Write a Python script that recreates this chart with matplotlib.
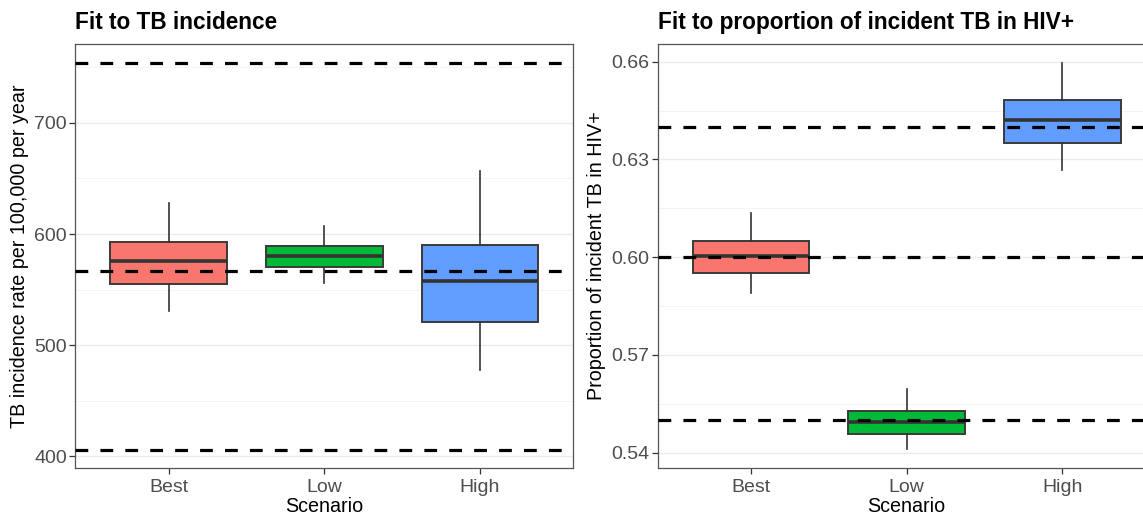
import matplotlib
matplotlib.use("Agg")
import matplotlib.pyplot as plt
from matplotlib.ticker import FixedLocator

plt.rcParams['font.family'] = ['Liberation Sans', 'DejaVu Sans']

# data
scenarios = ["Best", "Low", "High"]
fills = ["#F8766D", "#00BA38", "#619CFF"]

# left panel: TB incidence rate per 100,000 per year
inc_whislo = [531, 556, 478]
inc_q1 = [555, 570, 521]
inc_med = [575.5, 580, 558]
inc_q3 = [592.5, 589, 590]
inc_whishi = [627.5, 607, 657]
inc_targets = [406, 567, 754]

# right panel: proportion of incident TB in HIV+
hiv_whislo = [0.5889, 0.5411, 0.6269]
hiv_q1 = [0.5952, 0.5458, 0.6351]
hiv_med = [0.6004, 0.5495, 0.6422]
hiv_q3 = [0.6050, 0.5529, 0.6483]
hiv_whishi = [0.6136, 0.5594, 0.6596]
hiv_targets = [0.55, 0.60, 0.64]


def make_stats(lo, q1, med, q3, hi):
    return [dict(whislo=a, q1=b, med=c, q3=d, whishi=e, label=s)
            for a, b, c, d, e, s in zip(lo, q1, med, q3, hi, scenarios)]


def draw_panel(ax, stats, targets, title, ylabel, major, ylim, fmt):
    bp = ax.bxp(stats, positions=[1, 2, 3], widths=0.75, patch_artist=True,
                showfliers=False, showcaps=False,
                boxprops=dict(edgecolor="#3a3a3a", linewidth=1.4),
                medianprops=dict(color="#333333", linewidth=2.6, solid_capstyle="butt"),
                whiskerprops=dict(color="#333333", linewidth=1.2),
                zorder=2)
    for patch, c in zip(bp["boxes"], fills):
        patch.set_facecolor(c)

    # target lines
    for t in targets:
        ax.axhline(t, color="black", linewidth=2.3, linestyle=(0, (4, 3.8)),
                   dash_capstyle="butt", zorder=3)

    ax.set_xlim(0.4, 3.6)
    ax.set_ylim(*ylim)
    ax.yaxis.set_major_locator(FixedLocator(major))
    step = major[1] - major[0]
    minors = [m + step / 2 for m in [major[0] - step] + list(major)]
    ax.yaxis.set_minor_locator(FixedLocator(minors))
    ax.set_yticklabels([fmt(v) for v in major])
    ax.set_xticks([1, 2, 3])
    ax.set_xticklabels(scenarios)

    ax.grid(axis="y", which="major", color="#EBEBEB", linewidth=1.0, zorder=0)
    ax.grid(axis="y", which="minor", color="#F2F2F2", linewidth=0.6, zorder=0)
    ax.grid(axis="x", visible=False)
    ax.set_axisbelow(True)

    for s in ax.spines.values():
        s.set_color("#555555")
        s.set_linewidth(0.9)
    ax.tick_params(axis="both", which="major", length=4, width=0.9, color="#333333",
                   labelsize=14, labelcolor="#4D4D4D", pad=2)
    ax.tick_params(axis="x", which="major", pad=3.5)
    ax.tick_params(axis="y", which="minor", length=0)

    ax.set_title(title, loc="left", fontsize=16.3, fontweight="bold", pad=10.5)
    ax.set_xlabel("Scenario", fontsize=14.2, labelpad=1)
    ax.set_ylabel(ylabel, fontsize=14.2, labelpad=4)


fig = plt.figure(figsize=(11.43, 5.18), dpi=100)
ax1 = fig.add_axes([0.0659, 0.0959, 0.4357, 0.8197])
ax2 = fig.add_axes([0.5754, 0.0959, 0.4357, 0.8197])

draw_panel(ax1, make_stats(inc_whislo, inc_q1, inc_med, inc_q3, inc_whishi),
           inc_targets, "Fit to TB incidence",
           "TB incidence rate per 100,000 per year",
           [400, 500, 600, 700], (389.2, 771.2), lambda v: f"{v:.0f}")

draw_panel(ax2, make_stats(hiv_whislo, hiv_q1, hiv_med, hiv_q3, hiv_whishi),
           hiv_targets, "Fit to proportion of incident TB in HIV+",
           "Proportion of incident TB in HIV+",
           [0.54, 0.57, 0.60, 0.63, 0.66], (0.5352, 0.6655), lambda v: f"{v:.2f}")

fig.savefig("out.png", dpi=100)
